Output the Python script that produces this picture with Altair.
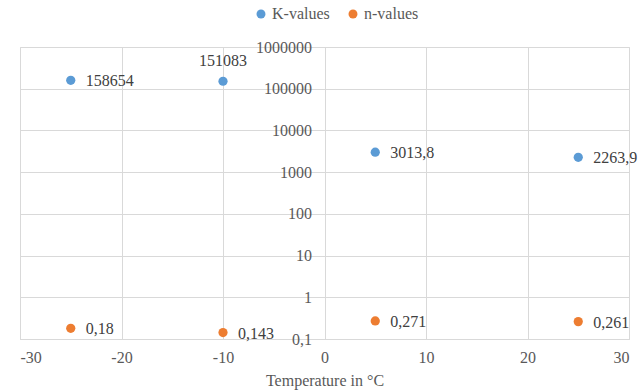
import altair as alt
import pandas as pd

temps = [-25, -10, 5, 25]
k_values = [158654, 151083, 3013.8, 2263.9]
n_values = [0.18, 0.143, 0.271, 0.261]
series_names = ["K-values", "n-values"]
x_ticks = [-30, -20, -10, 0, 10, 20, 30]
y_ticks = [0.1, 1, 10, 100, 1000, 10000, 100000, 1000000]


def fmt(v):
    if float(v).is_integer():
        return str(int(v))
    return str(v).replace(".", ",")


rows = []
for i, t in enumerate(temps):
    rows.append({"T": t, "V": k_values[i], "S": series_names[0], "L": fmt(k_values[i])})
for i, t in enumerate(temps):
    rows.append({"T": t, "V": n_values[i], "S": series_names[1], "L": fmt(n_values[i])})
df = pd.DataFrame(rows)

FONT = "Liberation Serif"
FS = 16
GRID = "#d9d9d9"

x = alt.X("T:Q", scale=alt.Scale(domain=[-30, 30], nice=False),
          axis=alt.Axis(values=x_ticks, title="Temperature in °C", grid=True, gridColor=GRID,
                        domainColor=GRID, ticks=False, labelPadding=10,
                        labelColor="#595959", titleFontSize=FS,
                        titleFontWeight="normal", titleColor="#595959", titlePadding=7,
                        labelExpr="toString(datum.value)"))
y = alt.Y("V:Q", scale=alt.Scale(type="log", domain=[0.1, 1000000], nice=False),
          axis=alt.Axis(values=y_ticks, title=None, grid=True, gridColor=GRID, domain=False,
                        ticks=False, offset=-304.5, labelPadding=13,
                        labelColor="#595959",
                        labelExpr="replace(toString(datum.value), '.', ',')"))

color = alt.Color("S:N", scale=alt.Scale(domain=series_names, range=["#5b9bd5", "#ed7d31"]),
                  legend=alt.Legend(title=None, orient="none", legendX=233, legendY=-41,
                                    direction="horizontal", symbolType="circle", symbolSize=80,
                                    labelColor="#595959",
                                    labelOffset=3, columnPadding=15, symbolStrokeWidth=0))

base = alt.Chart(df)
points = base.mark_point(filled=True, size=85, opacity=1).encode(x=x, y=y, color=color)
labels_right = base.transform_filter("datum.L != '151083'").mark_text(
    align="left", baseline="middle", dx=15, dy=1, color="#404040"
).encode(x="T:Q", y="V:Q", text="L:N")
labels_above = base.transform_filter("datum.L == '151083'").mark_text(
    align="center", baseline="middle", dy=-20, color="#404040"
).encode(x="T:Q", y="V:Q", text="L:N")

chart = alt.layer(points, labels_right, labels_above).properties(
    width=609, height=292,
    autosize=alt.AutoSizeParams(type="none"),
    padding={"left": 20, "top": 47, "right": 13, "bottom": 52},
).configure_view(stroke=None).configure(background="white", font=FONT).configure_axis(
    labelFont=FONT, labelFontSize=FS, titleFont=FONT
).configure_legend(labelFont=FONT, labelFontSize=FS).configure_text(font=FONT, fontSize=FS)

chart.save("out.html", embed_options={"renderer": "svg", "actions": False})
